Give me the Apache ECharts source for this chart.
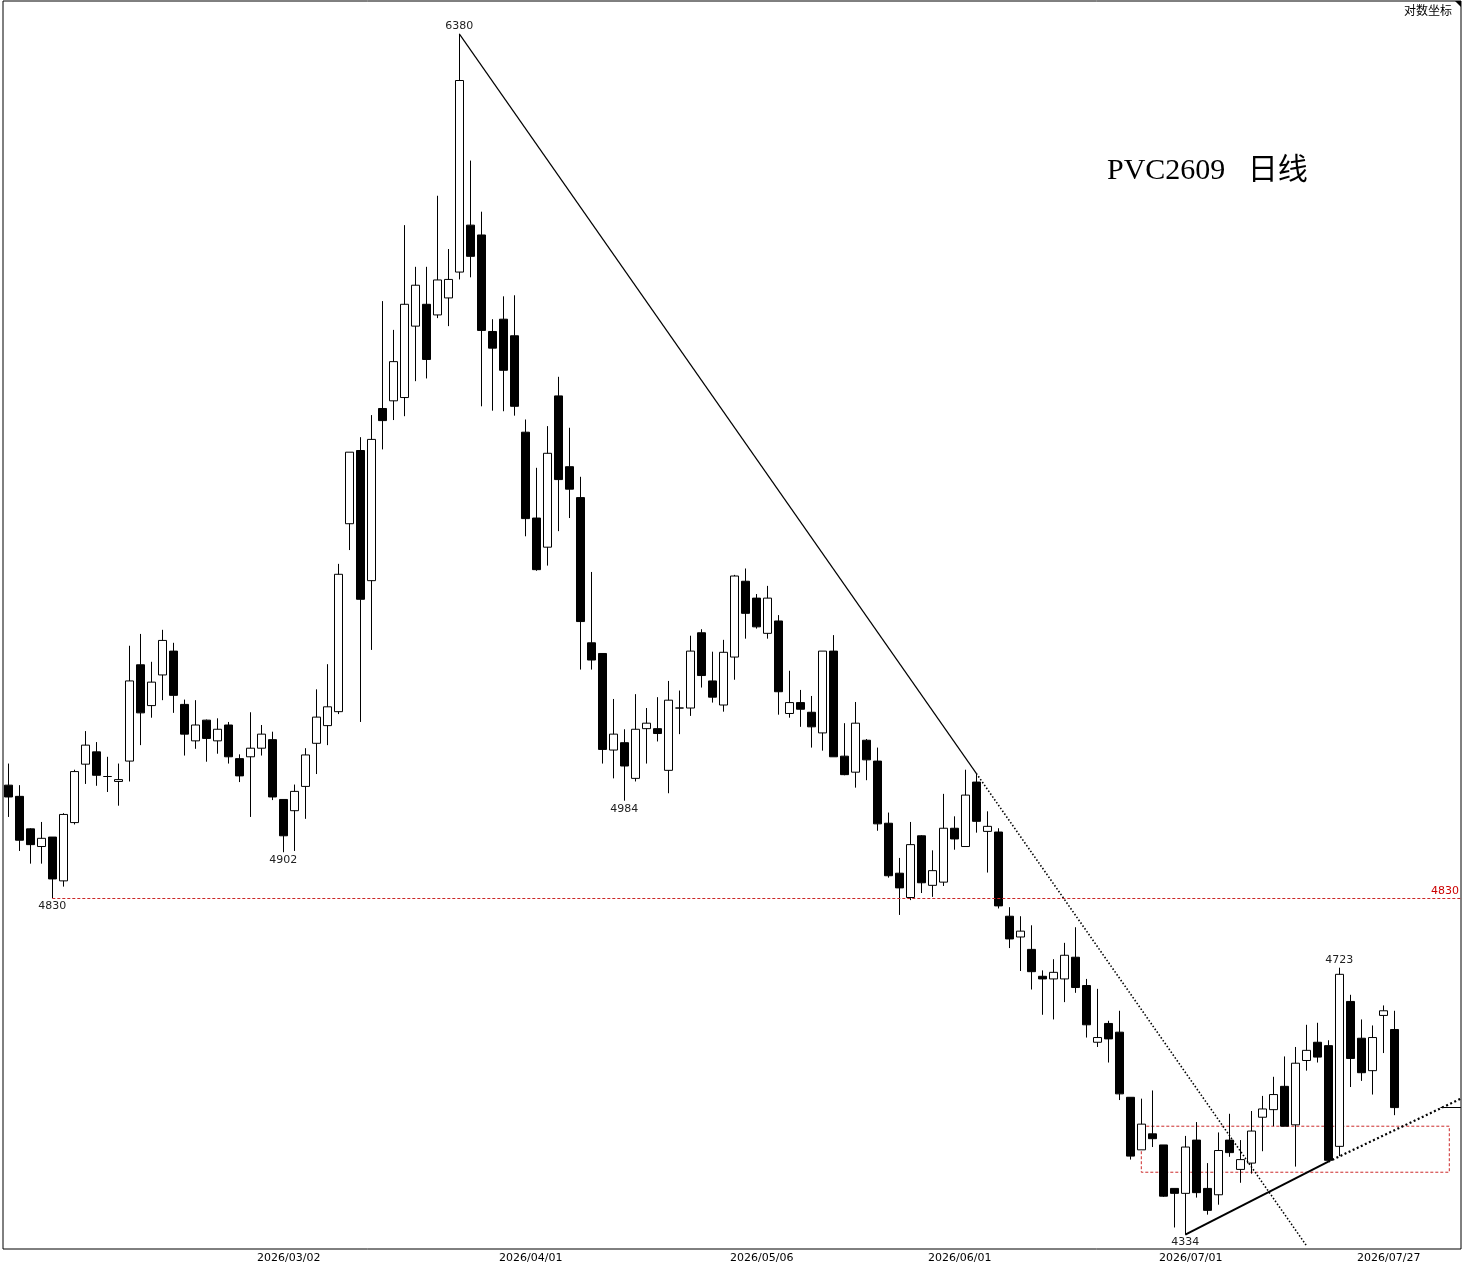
<!DOCTYPE html>
<html>
<head>
<meta charset="utf-8">
<title>PVC2609 日线</title>
<script src="https://cdn.jsdelivr.net/npm/echarts@6/dist/echarts.min.js"></script>
<style>
  html, body {margin: 0; padding: 0; background: #ffffff;}
  #main {width: 1466px; height: 1269px;}
</style>
</head>
<body>
<div id="main"></div>
<script>
// 日K 开 / 收 / 低 / 高，按交易日顺序（第0根到第126根）
const openArr = [
  5009, 4991, 4939, 4911, 4926, 4857, 4949, 5043, 5063, 5023,
  5015, 5048, 5207, 5139, 5190, 5230, 5141, 5081, 5115, 5081,
  5107, 5052, 5055, 5069, 5083, 4986, 4968, 5007, 5077, 5106,
  5129, 5449, 5579, 5350, 5655, 5669, 5675, 5807, 5848, 5828,
  5860, 5909, 5999, 5980, 5797, 5820, 5789, 5612, 5459, 5408,
  5678, 5550, 5495, 5244, 5226, 5066, 5078, 5020, 5101, 5101,
  5033, 5135, 5135, 5261, 5180, 5140, 5220, 5349, 5320, 5260,
  5281, 5126, 5144, 5128, 5094, 5230, 5056, 5030, 5082, 5048,
  4948, 4869, 4831, 4928, 4850, 4855, 4940, 4911, 5014, 4935,
  4934, 4802, 4770, 4751, 4710, 4706, 4706, 4739, 4696, 4611,
  4639, 4626, 4530, 4454, 4477, 4461, 4399, 4392, 4468, 4399,
  4390, 4468, 4426, 4435, 4501, 4512, 4546, 4490, 4584, 4611,
  4606, 4459, 4672, 4617, 4569, 4651, 4630
];
const closeArr = [
  4990, 4921, 4914, 4924, 4860, 4962, 5031, 5074, 5025, 5023,
  5018, 5180, 5127, 5178, 5248, 5156, 5092, 5107, 5085, 5100,
  5055, 5024, 5069, 5092, 4990, 4928, 4999, 5058, 5120, 5137,
  5361, 5576, 5318, 5599, 5633, 5741, 5848, 5884, 5745, 5894,
  5895, 6285, 5939, 5799, 5766, 5725, 5659, 5458, 5369, 5574,
  5527, 5510, 5280, 5215, 5067, 5092, 5040, 5100, 5110, 5093,
  5148, 5135, 5230, 5189, 5153, 5228, 5358, 5294, 5271, 5320,
  5162, 5144, 5133, 5104, 5230, 5055, 5026, 5110, 5050, 4947,
  4865, 4846, 4914, 4854, 4873, 4940, 4923, 4993, 4951, 4943,
  4818, 4767, 4779, 4717, 4706, 4716, 4742, 4693, 4637, 4618,
  4616, 4535, 4445, 4491, 4470, 4388, 4392, 4458, 4393, 4368,
  4453, 4450, 4440, 4481, 4513, 4534, 4488, 4580, 4599, 4589,
  4439, 4713, 4587, 4566, 4618, 4658, 4515
];
const lowArr = [
  4958, 4904, 4884, 4884, 4830, 4848, 4946, 5011, 5008, 4998,
  4976, 5015, 5074, 5119, 5148, 5127, 5057, 5068, 5047, 5060,
  5044, 5014, 4958, 5057, 4985, 4902, 4904, 4955, 5027, 5074,
  5125, 5403, 5112, 5232, 5581, 5634, 5641, 5705, 5710, 5822,
  5807, 5895, 5899, 5659, 5651, 5650, 5642, 5427, 5367, 5376,
  5436, 5459, 5199, 5199, 5044, 5020, 4984, 5015, 5044, 5080,
  4996, 5092, 5122, 5169, 5144, 5129, 5182, 5251, 5268, 5251,
  5124, 5119, 5104, 5070, 5065, 5055, 5025, 5005, 5017, 4936,
  4862, 4804, 4827, 4838, 4832, 4849, 4906, 4911, 4933, 4870,
  4814, 4753, 4718, 4690, 4652, 4645, 4671, 4685, 4618, 4604,
  4581, 4526, 4440, 4454, 4458, 4387, 4344, 4334, 4386, 4362,
  4376, 4444, 4407, 4420, 4452, 4488, 4488, 4430, 4569, 4581,
  4437, 4445, 4545, 4554, 4534, 4595, 4504
];
const highArr = [
  5044, 5009, 4940, 4950, 4926, 4964, 5034, 5097, 5079, 5055,
  5044, 5239, 5259, 5212, 5266, 5244, 5149, 5148, 5116, 5118,
  5112, 5059, 5128, 5107, 5096, 4986, 5010, 5069, 5166, 5208,
  5379, 5576, 5603, 5643, 5854, 5800, 5999, 5919, 5919, 6056,
  5953, 6380, 6125, 6025, 5820, 5863, 5865, 5635, 5548, 5623,
  5713, 5620, 5532, 5365, 5226, 5150, 5100, 5158, 5135, 5153,
  5180, 5164, 5256, 5267, 5229, 5249, 5360, 5371, 5327, 5341,
  5291, 5197, 5165, 5155, 5230, 5257, 5110, 5145, 5084, 5070,
  4965, 4893, 4950, 4929, 4905, 4995, 4959, 5034, 5028, 4967,
  4940, 4816, 4802, 4788, 4719, 4736, 4761, 4785, 4706, 4691,
  4643, 4658, 4530, 4528, 4540, 4461, 4399, 4474, 4494, 4435,
  4479, 4506, 4468, 4510, 4532, 4560, 4590, 4604, 4637, 4640,
  4614, 4723, 4682, 4645, 4636, 4666, 4658
];

// 横轴日期标注（K线序号 -> 日期）
const labelIdx = [26, 48, 69, 87, 108, 126];
const labelText = ['2026/03/02', '2026/04/01', '2026/05/06', '2026/06/01', '2026/07/01', '2026/07/27'];

// 高低点标注
const markIdx = [41, 4, 25, 56, 121, 107];
const markVal = [6380, 4830, 4902, 4984, 4723, 4334];
const markPos = ['top', 'bottom', 'bottom', 'bottom', 'top', 'bottom'];

// 压力线（高点连线）和支撑线（低点连线）
const resistIdx = [41, 88];
const resistVal = [6380, 5028];
const supportIdx = [107, 120];
const supportVal = [4334, 4437];
const supportEndVal = 4528;

// 红框区间
const boxIdx = [103, 131];
const boxVal = [4488, 4422];

const keyLevel = 4830;

const yMin = 4314;
const yMax = 6448;
const xMin = -0.482;
const xMax = 132.063;

let candleData = openArr.map(function (o, i) {
  return [i, o, closeArr[i], lowArr[i], highArr[i]];
});
let lastClose = closeArr[closeArr.length - 1];

// 压力线向右下延伸到底边
let lnSlope = (Math.log(resistVal[1]) - Math.log(resistVal[0])) / (resistIdx[1] - resistIdx[0]);
let extIdx = resistIdx[0] + (Math.log(yMin * 1.001) - Math.log(resistVal[0])) / lnSlope;

let myChart = echarts.init(document.getElementById('main'));

let option = {
  animation: false,
  backgroundColor: '#ffffff',
  title: {
    text: 'PVC2609   日线',
    left: 1107,
    top: 156,
    padding: 0,
    textStyle: {
      fontFamily: "'Liberation Serif', 'Noto Sans CJK SC'",
      fontSize: 30,
      fontWeight: 'normal',
      color: '#000'
    }
  },
  graphic: [
    {
      type: 'text',
      right: 14,
      top: 4,
      style: {
        text: '对数坐标',
        font: '12px "Noto Sans CJK SC"',
        fill: '#000'
      }
    },
    {
      type: 'polygon',
      shape: {points: [[1455, 1], [1461, 1], [1461, 7]]},
      style: {fill: '#000'}
    }
  ],
  grid: {
    left: 3,
    right: 5,
    top: 1,
    bottom: 20,
    show: true,
    borderColor: '#000',
    borderWidth: 1,
    backgroundColor: '#fff'
  },
  xAxis: {
    type: 'value',
    min: xMin,
    max: xMax,
    axisLine: {show: false},
    axisTick: {show: false},
    splitLine: {show: false},
    axisLabel: {
      customValues: labelIdx.map(function (i) { return i - 0.5; }),
      formatter: function (v) {
        return labelText[labelIdx.indexOf(Math.round(v + 0.5))];
      },
      color: '#000',
      fontSize: 11,
      fontFamily: 'DejaVu Sans',
      margin: 4
    }
  },
  yAxis: {
    type: 'log',
    min: yMin,
    max: yMax,
    axisLine: {show: false},
    axisTick: {show: false},
    axisLabel: {show: false},
    splitLine: {show: false}
  },
  series: [
    {
      type: 'candlestick',
      data: candleData,
      barWidth: 8,
      silent: true,
      itemStyle: {
        color: '#ffffff',
        color0: '#000000',
        borderColor: '#000000',
        borderColor0: '#000000',
        borderColorDoji: '#000000',
        borderWidth: 1
      },
      markLine: {
        symbol: ['none', 'none'],
        silent: true,
        label: {show: false},
        data: [
          [
            {coord: [resistIdx[0], resistVal[0]], lineStyle: {color: '#000', width: 1.2, type: 'solid'}},
            {coord: [resistIdx[1], resistVal[1]]}
          ],
          [
            {coord: [resistIdx[1], resistVal[1]], lineStyle: {color: '#000', width: 1.6, type: [1.5, 2]}},
            {coord: [extIdx, yMin * 1.001]}
          ],
          [
            {
              coord: [4, keyLevel],
              lineStyle: {color: '#cc2a2a', width: 1, type: [3, 2]},
              label: {
                show: true,
                position: 'insideEndTop',
                formatter: String(keyLevel),
                color: '#cc0000',
                fontSize: 11,
                fontFamily: 'DejaVu Sans',
                distance: 2
              }
            },
            {coord: [xMax - 0.01, keyLevel]}
          ],
          [
            {coord: [supportIdx[0], supportVal[0]], lineStyle: {color: '#000', width: 2, type: 'solid'}},
            {coord: [supportIdx[1], supportVal[1]]}
          ],
          [
            {coord: [supportIdx[1], supportVal[1]], lineStyle: {color: '#000', width: 2.2, type: [2, 2.5]}},
            {coord: [xMax - 0.01, supportEndVal]}
          ],
          // 最新价短线
          [
            {coord: [130.2, lastClose], lineStyle: {color: '#000', width: 1, type: 'solid'}},
            {coord: [xMax - 0.01, lastClose]}
          ]
        ]
      },
      markArea: {
        silent: true,
        itemStyle: {
          color: 'rgba(0,0,0,0)',
          borderColor: '#cc2a2a',
          borderWidth: 1,
          borderType: [3, 2]
        },
        data: [
          [{coord: [boxIdx[0], boxVal[0]]}, {coord: [boxIdx[1], boxVal[1]]}]
        ]
      },
      markPoint: {
        symbol: 'circle',
        symbolSize: 1,
        silent: true,
        itemStyle: {color: 'rgba(0,0,0,0)'},
        label: {
          show: true,
          formatter: '{c}',
          color: '#222',
          fontSize: 11,
          fontFamily: 'DejaVu Sans',
          distance: 2
        },
        data: markIdx.map(function (idx, k) {
          return {
            coord: [idx, markVal[k]],
            value: markVal[k],
            label: {position: markPos[k]}
          };
        })
      }
    }
  ]
};

myChart.setOption(option);
</script>
</body>
</html>
